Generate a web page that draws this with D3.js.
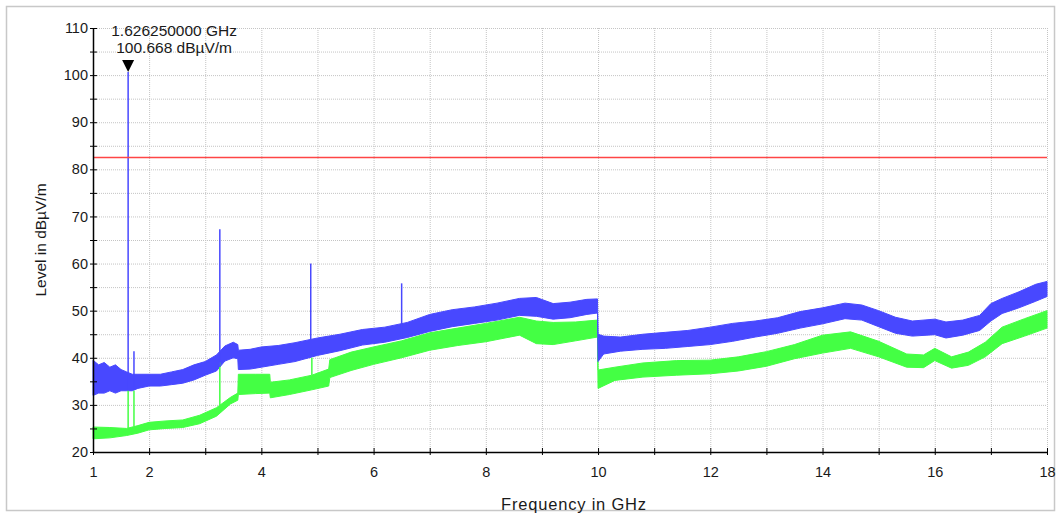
<!DOCTYPE html>
<html>
<head>
<meta charset="utf-8">
<script src="https://cdn.jsdelivr.net/npm/d3@7"></script>
<style>
  body { margin: 0; background: #fff; }
  text { font-family: "Liberation Sans", Arial, sans-serif; }
</style>
</head>
<body>
<div id="chart"></div>
<script>
// peak trace (blue) envelope
const peakFreq = [1.0, 1.1, 1.2, 1.3, 1.4, 1.5, 1.6, 1.7, 1.8, 2.0, 2.2, 2.4, 2.6, 2.8, 3.0, 3.2, 3.35, 3.5, 3.58, 3.59,
  3.8, 4.0, 4.3, 4.6, 5.0, 5.4, 5.8, 6.2, 6.6, 7.0, 7.4, 7.8, 8.2, 8.6, 8.9, 9.2, 9.5, 9.8, 9.99, 10.0,
  10.1, 10.4, 10.8, 11.2, 11.6, 12.0, 12.4, 12.8, 13.2, 13.6, 14.0, 14.4, 14.7, 15.0, 15.3, 15.6, 16.0, 16.2, 16.5, 16.8,
  17.0, 17.2, 17.5, 17.8, 18.0];
const peakHi = [39.5, 38.5, 39.0, 38.0, 38.5, 37.5, 37.0, 36.5, 36.5, 36.5, 36.5, 37.0, 37.5, 38.5, 39.2, 40.6, 42.5, 43.3, 42.8, 41.6,
  41.8, 42.3, 42.6, 43.2, 44.2, 45.0, 46.0, 46.5, 47.5, 49.2, 50.2, 50.8, 51.6, 52.6, 52.8, 51.5, 51.8, 52.4, 52.5, 45.0,
  44.6, 44.4, 45.0, 45.4, 45.8, 46.5, 47.3, 47.8, 48.5, 49.8, 50.6, 51.6, 51.2, 50.0, 48.6, 47.8, 48.2, 47.6, 48.0, 49.0,
  51.5, 52.6, 54.0, 55.6, 56.2];
const peakLo = [32.0, 32.5, 32.5, 33.0, 32.5, 33.0, 33.0, 33.0, 33.5, 34.0, 34.0, 34.3, 34.6, 35.3, 36.3, 37.2, 39.3, 40.0, 39.8, 37.5,
  37.6, 38.0, 38.6, 39.2, 40.5, 41.5, 42.7, 43.3, 44.3, 45.6, 46.6, 47.3, 48.0, 49.0, 48.8, 48.2, 48.5, 49.2, 49.5, 39.2,
  40.8, 41.4, 41.8, 42.0, 42.4, 42.8, 43.5, 44.4, 45.2, 46.3, 47.2, 48.3, 48.0, 46.6, 45.2, 44.6, 44.9, 44.2, 44.8, 45.8,
  47.8, 49.4, 50.6, 52.0, 53.0];

// average trace (green) envelope
const avgFreq = [1.0, 1.3, 1.6, 1.8, 2.0, 2.3, 2.6, 2.9, 3.2, 3.45, 3.58, 3.59, 3.9, 4.15, 4.16, 4.5, 4.9, 5.2, 5.22, 5.6,
  6.0, 6.5, 7.0, 7.5, 8.0, 8.6, 8.9, 9.2, 9.6, 9.99, 10.0, 10.3, 10.8, 11.4, 12.0, 12.5, 13.0, 13.5, 14.0, 14.5,
  15.0, 15.5, 15.8, 16.0, 16.3, 16.6, 16.9, 17.2, 17.6, 18.0];
const avgHi = [25.3, 25.2, 25.0, 25.6, 26.3, 26.6, 26.8, 27.8, 29.4, 31.6, 32.5, 36.5, 36.5, 36.5, 34.8, 35.3, 36.3, 37.6, 39.6, 41.2,
  42.3, 43.6, 45.3, 46.3, 47.3, 48.6, 47.8, 47.5, 47.6, 48.0, 37.4, 38.0, 38.9, 39.4, 39.5, 40.2, 41.3, 42.8, 44.8, 45.5,
  43.5, 40.8, 40.6, 42.0, 40.2, 41.2, 43.3, 46.5, 48.3, 50.0];
const avgLo = [22.8, 23.0, 23.5, 24.0, 24.7, 25.0, 25.2, 26.0, 27.6, 30.2, 31.0, 32.2, 32.4, 32.5, 31.5, 32.2, 33.2, 34.0, 35.8, 37.3,
  38.6, 40.0, 41.6, 42.6, 43.4, 44.8, 43.0, 42.8, 43.6, 44.4, 33.5, 35.2, 35.9, 36.3, 36.6, 37.2, 38.2, 39.8, 41.0, 42.0,
  40.2, 38.0, 37.9, 39.4, 37.8, 38.4, 40.2, 43.0, 44.6, 46.3];

// narrow spikes
const peakSpikeFreq = [1.626, 1.73, 3.26, 4.88, 6.5];
const peakSpikeLevel = [100.668, 41.4, 67.3, 60.0, 55.8];
const avgSpikeFreq = [1.626, 1.73, 3.26, 4.9];
const avgSpikeLevel = [33.1, 33.0, 39.0, 40.0];

const limitLevel = 82.5;
const markerFreq = 1.62625;
const markerLevel = 100.668;

const xTicks = [1, 2, 4, 6, 8, 10, 12, 14, 16, 18];
const yTicks = [20, 30, 40, 50, 60, 70, 80, 90, 100, 110];

const width = 1059;
const height = 514;
const margin = { left: 93, right: 12, top: 28, bottom: 62 };

const svg = d3
  .select("#chart")
  .append("svg")
  .attr("width", width)
  .attr("height", height);

// outer frame
svg.append("rect")
  .attr("x", 6.5).attr("y", 6.5)
  .attr("width", 1048).attr("height", 504)
  .attr("fill", "none")
  .attr("stroke", "#c8c8c8")
  .attr("stroke-width", 1.5);

const x = d3.scaleLinear().domain([1, 18]).range([margin.left, width - margin.right]);
const y = d3.scaleLinear().domain([20, 110]).range([height - margin.bottom, margin.top]);

// grid
const grid = svg.append("g").attr("stroke", "#c4c4c4").attr("stroke-dasharray", "1,1");
grid.selectAll("line.v")
  .data(d3.range(2, 19))
  .enter().append("line")
  .attr("x1", (d) => x(d) + 0.5).attr("x2", (d) => x(d) + 0.5)
  .attr("y1", y(110)).attr("y2", y(20));
grid.selectAll("line.h")
  .data(d3.range(25, 111, 5))
  .enter().append("line")
  .attr("x1", x(1)).attr("x2", x(18))
  .attr("y1", (d) => y(d) + 0.5).attr("y2", (d) => y(d) + 0.5);

// traces
const band = (fs, lo, hi) =>
  d3.area()
    .x((d, i) => x(fs[i]))
    .y0((d, i) => y(lo[i]))
    .y1((d, i) => y(hi[i]))(fs);

svg.append("path")
  .attr("d", band(avgFreq, avgLo, avgHi))
  .attr("fill", "#44ff44")
  .attr("stroke", "#44ff44")
  .attr("stroke-width", 1);

svg.append("path")
  .attr("d", band(peakFreq, peakLo, peakHi))
  .attr("fill", "#4848ff")
  .attr("stroke", "#4848ff")
  .attr("stroke-width", 1);

const interp = (fs, vs, f) => {
  const i = Math.max(1, d3.bisectLeft(fs, f));
  const t = (f - fs[i - 1]) / (fs[i] - fs[i - 1]);
  return vs[i - 1] + t * (vs[i] - vs[i - 1]);
};

svg.selectAll("line.avgspike")
  .data(avgSpikeFreq)
  .enter().append("line")
  .attr("x1", (d) => x(d)).attr("x2", (d) => x(d))
  .attr("y1", (d) => y(interp(avgFreq, avgHi, d)))
  .attr("y2", (d, i) => y(avgSpikeLevel[i]))
  .attr("stroke", "#44ff44")
  .attr("stroke-width", 1.5);

svg.selectAll("line.peakspike")
  .data(peakSpikeFreq)
  .enter().append("line")
  .attr("x1", (d) => x(d)).attr("x2", (d) => x(d))
  .attr("y1", (d) => y(interp(peakFreq, peakLo, d)))
  .attr("y2", (d, i) => y(peakSpikeLevel[i]))
  .attr("stroke", "#4848ff")
  .attr("stroke-width", 1.5);

// limit line
svg.append("line")
  .attr("x1", x(1)).attr("x2", x(18))
  .attr("y1", y(limitLevel)).attr("y2", y(limitLevel))
  .attr("stroke", "#ff4646")
  .attr("stroke-width", 1.5);

// axes
const yAxis = d3.axisLeft(y)
  .tickValues(d3.range(20, 111, 5))
  .tickSize(0)
  .tickFormat((d) => (yTicks.includes(d) ? d : ""));
const gy = svg.append("g").attr("transform", `translate(${x(1)},0)`).call(yAxis);
gy.select(".domain").attr("stroke", "#000").attr("stroke-width", 1.5);
gy.selectAll(".tick line").attr("x1", -3).attr("x2", 4).attr("stroke", "#000");
gy.selectAll(".tick text").attr("x", -5).attr("fill", "#1a1a1a").style("font-size", "14.5px");

const xAxis = d3.axisBottom(x)
  .tickValues(d3.range(1, 19))
  .tickSize(0)
  .tickFormat((d) => (xTicks.includes(d) ? d : ""));
const gx = svg.append("g").attr("transform", `translate(0,${y(20)})`).call(xAxis);
gx.select(".domain").attr("stroke", "#000").attr("stroke-width", 1.5);
gx.selectAll(".tick line").attr("y1", -4).attr("y2", 3).attr("stroke", "#000");
gx.selectAll(".tick text").attr("y", 15).attr("fill", "#1a1a1a").style("font-size", "14.5px");

// axis titles
svg.append("text")
  .attr("transform", `translate(46,${(y(110) + y(20)) / 2}) rotate(-90)`)
  .attr("text-anchor", "middle")
  .attr("fill", "#1a1a1a")
  .style("font-size", "15.5px")
  .text("Level in dBµV/m");

svg.append("text")
  .attr("x", (x(1) + x(18)) / 2 + 4)
  .attr("y", 510)
  .attr("text-anchor", "middle")
  .attr("fill", "#1a1a1a")
  .style("font-size", "16.5px")
  .style("letter-spacing", "0.8px")
  .text("Frequency in GHz");

// marker
const mx = x(markerFreq);
const my = y(markerLevel);
svg.append("path")
  .attr("d", `M${mx - 6},${my - 12} L${mx + 6},${my - 12} L${mx},${my} Z`)
  .attr("fill", "#000");

svg.append("text")
  .attr("x", mx + 46).attr("y", 36)
  .attr("text-anchor", "middle")
  .attr("fill", "#1a1a1a")
  .style("font-size", "15.5px")
  .text(`${markerFreq.toFixed(9)} GHz`);

svg.append("text")
  .attr("x", mx + 46).attr("y", 53)
  .attr("text-anchor", "middle")
  .attr("fill", "#1a1a1a")
  .style("font-size", "15.5px")
  .text(`${markerLevel.toFixed(3)} dBµV/m`);
</script>
</body>
</html>
